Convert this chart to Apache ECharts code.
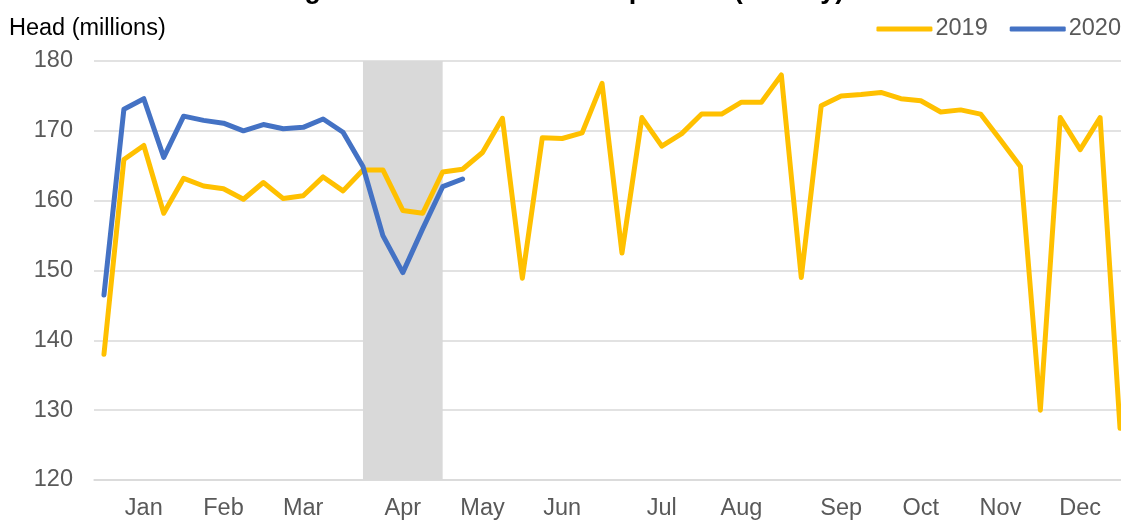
<!DOCTYPE html>
<html>
<head>
<meta charset="utf-8">
<script src="https://cdn.jsdelivr.net/npm/echarts@6/dist/echarts.min.js"></script>
<style>
html, body { margin: 0; padding: 0; overflow: hidden; width: 1121px; height: 521px; background: #fff; }
#chart { width: 1130px; height: 521px; }
</style>
</head>
<body>
<div id="chart"></div>
<script>
const weeks = ['W1','W2','W3','W4','W5','W6','W7','W8','W9','W10','W11','W12','W13','W14','W15','W16','W17','W18','W19','W20','W21','W22','W23','W24','W25','W26','W27','W28','W29','W30','W31','W32','W33','W34','W35','W36','W37','W38','W39','W40','W41','W42','W43','W44','W45','W46','W47','W48','W49','W50','W51','W52'];
const tickLabels = ['','','Jan','','','','Feb','','','','Mar','','','','','Apr','','','','May','','','','Jun','','','','','Jul','','','','Aug','','','','','Sep','','','','Oct','','','','Nov','','','','Dec','',''];
const values2019 = [138.0,165.9,167.9,158.2,163.2,162.1,161.7,160.2,162.6,160.3,160.7,163.4,161.4,164.4,164.4,158.6,158.2,164.1,164.5,166.9,171.8,148.9,169.0,168.9,169.7,176.8,152.5,171.9,167.8,169.6,172.4,172.4,174.1,174.1,178.0,149.0,173.6,175.0,175.2,175.5,174.6,174.3,172.7,173.0,172.4,168.7,164.9,130.0,171.9,167.3,171.9,127.4];
const values2020 = [146.5,173.1,174.6,166.2,172.1,171.5,171.1,170.0,170.9,170.3,170.5,171.7,169.8,164.9,155.0,149.7,156.0,162.0,163.1];
const shadedWeeks = [13, 17];
const yTicks = { min: 120, max: 180, interval: 10 };

const chart = echarts.init(document.getElementById('chart'));
const font = 'Liberation Sans, Arial, sans-serif';
const fs = 23.5;
chart.setOption({
  animation: false,
  title: [
    { text: 'Broiler Slaughter: 2020 vs. 2019 Comparison (Weekly)', left: 148, top: -28,
      textStyle: { fontSize: 27, fontWeight: 'bold', color: '#000', fontFamily: font } },
    { text: 'Head (millions)', left: 4, top: 12,
      textStyle: { fontSize: fs, fontWeight: 'normal', color: '#000', fontFamily: font } }
  ],
  legend: {
    right: 4, top: 12, itemGap: 22, itemWidth: 56, itemHeight: 5, icon: 'roundRect',
    textStyle: { fontSize: fs, color: '#595959', fontFamily: font, padding: [0,0,0,-2] },
    data: ['2019', '2020']
  },
  grid: { left: 94, right: 0, top: 61, bottom: 38 },
  xAxis: {
    type: 'category', data: weeks, boundaryGap: true,
    axisLine: { lineStyle: { color: '#d9d9d9', width: 1.5 } },
    axisTick: { show: false },
    axisLabel: { interval: 0, margin: 17, fontSize: fs, color: '#595959', fontFamily: font,
      formatter: (v, i) => tickLabels[i] }
  },
  yAxis: {
    type: 'value', min: yTicks.min, max: yTicks.max, interval: yTicks.interval,
    axisLine: { show: false }, axisTick: { show: false },
    axisLabel: { margin: 21, fontSize: fs, color: '#595959', fontFamily: font },
    splitLine: { lineStyle: { color: '#d9d9d9', width: 1.5 } }
  },
  series: [
    { name: '2019', type: 'line', data: values2019, symbol: 'none', color: '#FFC000',
      lineStyle: { width: 5, color: '#FFC000', cap: 'round', join: 'round' },
      markArea: { silent: true, itemStyle: { color: '#d9d9d9' },
        data: [[{ xAxis: shadedWeeks[0] }, { xAxis: shadedWeeks[1] }]] },
      z: 2 },
    { name: '2020', type: 'line', data: values2020, symbol: 'none', color: '#4472C4',
      lineStyle: { width: 5, color: '#4472C4', cap: 'round', join: 'round' }, z: 3 }
  ]
});
</script>
</body>
</html>
